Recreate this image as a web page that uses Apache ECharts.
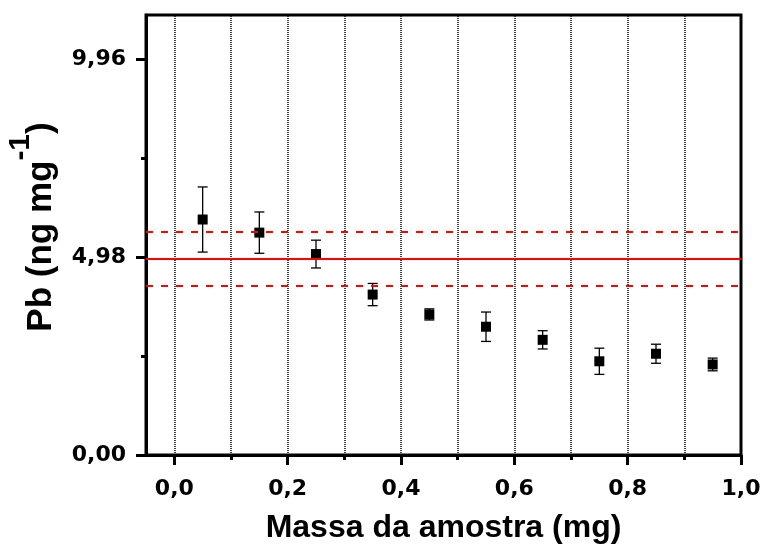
<!DOCTYPE html>
<html>
<head>
<meta charset="utf-8">
<script src="https://cdn.jsdelivr.net/npm/echarts@6/dist/echarts.min.js"></script>
<style>html,body{margin:0;padding:0;background:#fff;}#c{width:760px;height:545px;}</style>
</head>
<body>
<div id="c"></div>
<script>
// ---- data ----
var massX = [0.05, 0.15, 0.25, 0.35, 0.45, 0.55, 0.65, 0.75, 0.85, 0.95];
var pbValues = [5.93, 5.60, 5.06, 4.04, 3.54, 3.23, 2.90, 2.36, 2.55, 2.28];
var pbErrors = [0.82, 0.52, 0.35, 0.28, 0.14, 0.37, 0.23, 0.33, 0.24, 0.16];
var refMean = 4.94;
var refUpper = 5.61;
var refLower = 4.25;
var xMajorTicks = [0.0, 0.2, 0.4, 0.6, 0.8, 1.0];
var xMinorTicks = [0.1, 0.3, 0.5, 0.7, 0.9];
var xGridLines = [0.0, 0.1, 0.2, 0.3, 0.4, 0.5, 0.6, 0.7, 0.8, 0.9];
var yMajorTicks = [0.00, 4.98, 9.96];
var yMinorTicks = [2.49, 7.47];
var xMin = -0.05, xMax = 1.0, yMin = 0, yMax = 11.08;

var chart = echarts.init(document.getElementById('c'), null, {renderer: 'canvas'});
var points = massX.map(function (x, i) { return [x, pbValues[i]]; });
var errData = massX.map(function (x, i) { return [x, pbValues[i] - pbErrors[i], pbValues[i] + pbErrors[i]]; });

function fmt(d) { return function (v) { return Number(v).toFixed(d).replace('.', ','); }; }

var labelFont = {fontFamily: 'DejaVu Sans', fontWeight: 'bold', fontSize: 22, color: '#000'};
var axisLineStyle = {show: true, onZero: false, lineStyle: {color: '#000', width: 3}};

var option = {
  animation: false,
  backgroundColor: '#fff',
  grid: {left: 146, right: 19, top: 15, bottom: 90, show: true, borderColor: '#000', borderWidth: 3,
         backgroundColor: 'transparent', containLabel: false, outerBoundsMode: 'none'},
  xAxis: [{
    type: 'value', min: xMin, max: xMax, position: 'bottom',
    axisLine: axisLineStyle,
    axisTick: {show: true, customValues: xMajorTicks, length: 10, inside: false, lineStyle: {color: '#000', width: 3}},
    axisLabel: Object.assign({show: true, customValues: xMajorTicks, formatter: fmt(1), margin: 23}, labelFont),
    splitLine: {show: false},
    name: 'Massa da amostra (mg)', nameLocation: 'middle', nameGap: 57,
    nameTextStyle: {fontFamily: 'Liberation Sans', fontWeight: 'bold', fontSize: 32, color: '#000'}
  }, {
    type: 'value', min: xMin, max: xMax, position: 'bottom',
    axisLine: {show: false, onZero: false},
    axisTick: {show: true, customValues: xMinorTicks, length: 5, inside: false, lineStyle: {color: '#000', width: 3}},
    axisLabel: {show: false},
    splitLine: {show: false}
  }],
  yAxis: [{
    type: 'value', min: yMin, max: yMax, position: 'left',
    axisLine: axisLineStyle,
    axisTick: {show: true, customValues: yMajorTicks, length: 10, inside: false, lineStyle: {color: '#000', width: 3}},
    axisLabel: Object.assign({show: true, customValues: yMajorTicks, formatter: fmt(2), margin: 20}, labelFont),
    splitLine: {show: false},
    name: '{t|Pb (ng mg}{s|-1}{t|)}', nameLocation: 'middle', nameGap: 70, nameRotate: 90,
    nameTextStyle: {
      padding: [0, 0, 0, 16],
      rich: {
        t: {fontFamily: 'Liberation Sans', fontWeight: 'bold', fontSize: 35, color: '#000', lineHeight: 70},
        s: {fontFamily: 'Liberation Sans', fontWeight: 'bold', fontSize: 30, color: '#000', lineHeight: 30, verticalAlign: 'top'}
      }
    }
  }, {
    type: 'value', min: yMin, max: yMax, position: 'left',
    axisLine: {show: false, onZero: false},
    axisTick: {show: true, customValues: yMinorTicks, length: 5, inside: false, lineStyle: {color: '#000', width: 3}},
    axisLabel: {show: false},
    splitLine: {show: false}
  }],
  series: [{
    name: 'grid', type: 'line', data: [], xAxisIndex: 0, yAxisIndex: 0,
    markLine: {
      silent: true, symbol: ['none', 'none'], label: {show: false},
      lineStyle: {color: '#111', width: 1.6, type: [1, 1]},
      data: xGridLines.map(function (v) { return {xAxis: v}; })
    }
  }, {
    name: 'ref', type: 'line', data: [], xAxisIndex: 0, yAxisIndex: 0,
    markLine: {
      silent: true, symbol: ['none', 'none'], label: {show: false},
      data: [
        {yAxis: refMean, lineStyle: {color: '#ff0000', width: 2, type: 'solid'}},
        {yAxis: refUpper, lineStyle: {color: '#ff0000', width: 2, type: [7, 8]}},
        {yAxis: refLower, lineStyle: {color: '#ff0000', width: 2, type: [7, 8]}}
      ]
    }
  }, {
    name: 'err', type: 'custom', xAxisIndex: 0, yAxisIndex: 0, data: errData,
    renderItem: function (params, api) {
      var x = api.value(0);
      var lo = api.coord([x, api.value(1)]);
      var hi = api.coord([x, api.value(2)]);
      var hw = 5;
      var st = {stroke: '#000', lineWidth: 1.3};
      return {type: 'group', children: [
        {type: 'line', shape: {x1: lo[0], y1: lo[1], x2: hi[0], y2: hi[1]}, style: st},
        {type: 'line', shape: {x1: lo[0] - hw, y1: lo[1], x2: lo[0] + hw, y2: lo[1]}, style: st},
        {type: 'line', shape: {x1: hi[0] - hw, y1: hi[1], x2: hi[0] + hw, y2: hi[1]}, style: st}
      ]};
    },
    z: 3
  }, {
    name: 'Pb', type: 'scatter', xAxisIndex: 0, yAxisIndex: 0, data: points,
    symbol: 'rect', symbolSize: 10, itemStyle: {color: '#000', opacity: 1}, z: 4
  }]
};
chart.setOption(option);
</script>
</body>
</html>
